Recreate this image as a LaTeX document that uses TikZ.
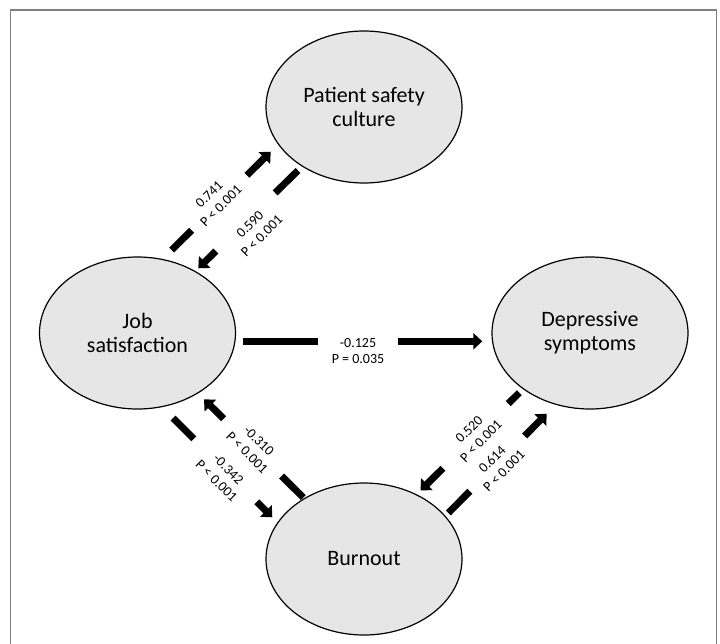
\documentclass[tikz,border=0pt]{standalone}
\usepackage{fontspec}
\setmainfont{Carlito}
\usetikzlibrary{shapes.geometric,arrows.meta}
\definecolor{ellfill}{RGB}{231,230,230}
\definecolor{framegray}{RGB}{127,127,127}
\begin{document}
\begin{tikzpicture}[x=1pt,y=-1pt,
  latent/.style={ellipse, draw=black, line width=1.2pt, fill=ellfill,
    minimum width=196pt, minimum height=152pt, inner sep=0pt, align=center,
    font=\fontsize{22}{24.3}\selectfont},
  conn/.style={line width=7pt, -{Triangle[length=9pt,width=16pt]}},
  coef/.style={align=center, inner sep=0pt, font=\fontsize{14}{16.7}\selectfont}]
\useasboundingbox (0,0) rectangle (720,643);
\draw[framegray, line width=1.3pt] (10.7,660) -- (10.7,10) -- (716.7,10) -- (716.7,660);

\node[latent] (psc) at (364,107) {Patient safety\\culture};
\node[latent] (job) at (137.5,333) {Job\\satisfaction};
\node[latent] (dep) at (590,333) {Depressive\\symptoms};
\node[latent] (bur) at (364,559) {Burnout};

\coordinate (a1) at (171.7,250);   \coordinate (a2) at (270.7,151.7);
\coordinate (b1) at (298,170.5);   \coordinate (b2) at (198.3,268.3);
\coordinate (c1) at (173,418);     \coordinate (c2) at (272.3,517.3);
\coordinate (d1) at (303.3,497.5); \coordinate (d2) at (204,399.3);
\coordinate (e1) at (519.3,392.7); \coordinate (e2) at (420.5,490.5);
\coordinate (f1) at (448.3,513);   \coordinate (f2) at (546.7,413.7);
\coordinate (h1) at (242.7,341.3); \coordinate (h2) at (482.3,341.3);

\draw[conn, dash pattern=on 28pt off 78pt on 400pt] (a1) -- (a2);
\draw[conn, dash pattern=on 32pt off 83pt on 400pt] (b1) -- (b2);
\draw[conn, dash pattern=on 29.5pt off 89pt on 400pt] (c1) -- (c2);
\draw[conn, dash pattern=on 30.5pt off 81.5pt on 400pt] (d1) -- (d2);
\draw[conn, dash pattern=on 15.5pt off 92pt on 400pt] (e1) -- (e2);
\draw[conn, dash pattern=on 30.7pt off 77.8pt on 400pt] (f1) -- (f2);
\draw[conn, dash pattern=on 75pt off 80pt on 400pt] (h1) -- (h2);

\node[coef, rotate=45] (la) at (215,200) {0.741\\P < 0.001};
\node[coef, rotate=45] (lb) at (255.8,230.3) {0.590\\P < 0.001};
\node[coef, rotate=-45] (lc) at (222.5,475) {-0.342\\P < 0.001};
\node[coef, rotate=-45] (ld) at (253,446.7) {-0.310\\P < 0.001};
\node[coef, rotate=45] (le) at (475,435.4) {0.520\\P < 0.001};
\node[coef, rotate=45] (lf) at (498,465) {0.614\\P < 0.001};
\node[coef] (lh) at (358,351) {-0.125\\P = 0.035};
\end{tikzpicture}
\end{document}
